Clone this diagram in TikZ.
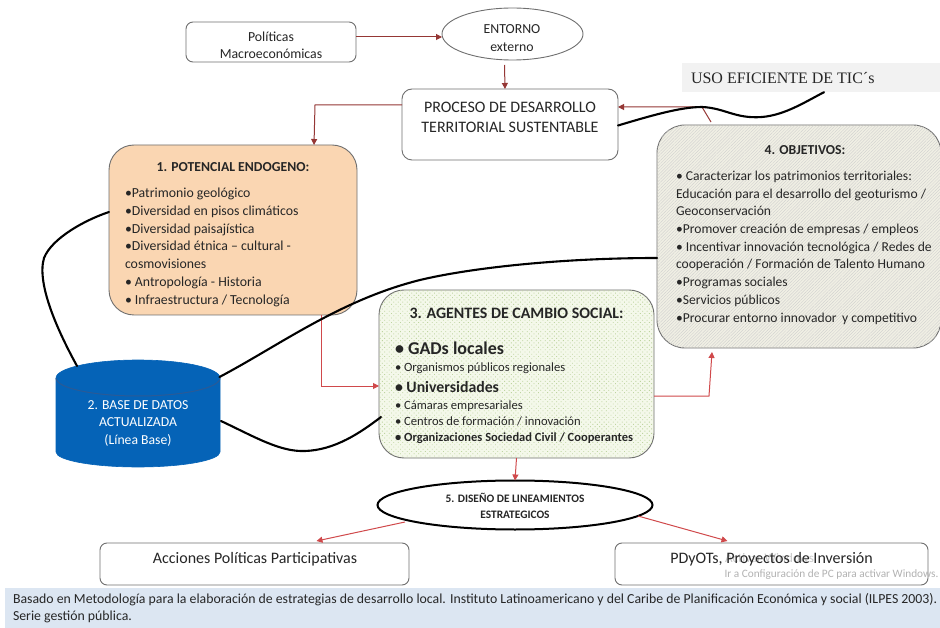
\documentclass[tikz,border=0pt]{standalone}
\usepackage{fontspec}
\setmainfont{Carlito}
\newfontfamily\serifuso{Liberation Serif}
\usetikzlibrary{arrows.meta,shapes.geometric,patterns.meta,calc}
\definecolor{darkred}{HTML}{953735}
\definecolor{lightred}{HTML}{D0494B}
\definecolor{txt}{HTML}{262626}
\definecolor{boxline}{HTML}{6F6F6F}
\definecolor{cylfill}{HTML}{0563B7}
\definecolor{cylline}{HTML}{2A5A96}
\newcommand{\fs}[2]{\fontsize{#1}{#2}\selectfont}
\tikzset{
  box/.style={draw=boxline,line width=0.9pt,rounded corners=7pt,fill=white,inner sep=0pt,outer sep=0pt,minimum width=#1},
  oval/.style={ellipse,inner sep=0pt,outer sep=0pt,fill=white},
  lbl/.style={inner sep=0pt,outer sep=0pt,text=txt,align=center},
  body/.style={inner sep=0pt,outer sep=0pt,text=txt,align=left,anchor=north west},
  arr/.style={draw=darkred,line width=1pt,-{Triangle[length=6pt,width=6pt]}},
  arrl/.style={draw=lightred,line width=1pt,-{Triangle[length=6pt,width=6pt]}},
  wire/.style={draw=black,line width=2.1pt,line cap=round},
}
\begin{document}
\begin{tikzpicture}[x=1pt,y=-1pt]
\clip (0,0) rectangle (940,628);
\fill[white] (0,0) rectangle (940,628);
% bands
\node[fill=black!5,inner sep=0pt,minimum width=258pt,minimum height=29pt] (uso) at (811,77.5) {};
\node[fill={rgb,255:red,220;green,230;blue,242},inner sep=0pt,minimum width=935pt,minimum height=40pt] (foot) at (472.5,608) {};
% boxes
\node[box=170pt,minimum height=40pt] (pol) at (271,42) {};
\node[oval,draw=boxline,line width=0.9pt,minimum width=141pt,minimum height=52pt] (ent) at (512.5,34) {};
\node[box=216pt,minimum height=71pt,rounded corners=10pt] (pro) at (510,124.5) {};
\node[box=248pt,minimum height=170pt,rounded corners=25pt,fill={rgb,255:red,250;green,214;blue,178}] (pot) at (233,230) {};
\node[box=275pt,minimum height=168pt,rounded corners=25pt,fill={rgb,255:red,244;green,248;blue,234},
  postaction={pattern={Dots[radius=0.6pt,distance=3.2pt,angle=45]},pattern color={rgb,255:red,190;green,212;blue,160}}] (agt) at (516.5,374) {};
\node[box=284pt,minimum height=223pt,rounded corners=28pt,fill={rgb,255:red,240;green,239;blue,228},
  postaction={pattern={Lines[angle=45,distance=2.2pt,line width=0.3pt]},pattern color=black!20}] (obj) at (799,236.5) {};
\node[oval,draw=black,line width=2pt,minimum width=275pt,minimum height=49pt] (dis) at (515,505) {};
\node[box=309pt,minimum height=42pt] (acc) at (254.5,564) {};
\node[box=313pt,minimum height=42pt] (pdy) at (771.5,564) {};
% database cylinder
\path[fill=cylfill,draw=cylfill,line width=0.6pt] (56,378) arc[start angle=180,end angle=0,x radius=82pt,y radius=18pt]
  -- (220,452) arc[start angle=0,end angle=-180,x radius=82pt,y radius=15pt] -- cycle;
\draw[cylline,line width=1pt] (56,378) arc[start angle=180,end angle=360,x radius=82pt,y radius=18pt];
\node[inner sep=0pt,outer sep=0pt,minimum width=164pt,minimum height=107pt] (cyl) at (138,413.5) {};
% arrows
\draw[arr] ([yshift=5pt]pol.east) -- ([yshift=-3pt]ent.west);
\draw[arr] ([xshift=-8pt,yshift=-5pt]ent.south) -- ([xshift=-5pt]pro.north);
\draw[arr] ([yshift=19.5pt]pro.west) -- ++(-87pt,0) -- ([xshift=81pt]pot.north);
\draw[arr] ([xshift=-88pt,yshift=3pt]obj.north) -- ++(-9pt,15pt) -- ([yshift=17.5pt]pro.east);
\draw[arrl] ([xshift=88.5pt]pot.south) |- ([yshift=-12pt]agt.west);
\draw[arrl] ([yshift=-22pt]agt.east) -- ++(55pt,0) -- ([xshift=-87pt,yshift=-4pt]obj.south);
\draw[arrl] (agt.south) -- (dis.north);
\draw[arrl] ([xshift=-110pt,yshift=-17pt]dis.center) -- ([xshift=62pt,yshift=2pt]acc.north);
\draw[arrl] ([xshift=123pt,yshift=-11pt]dis.center) -- ([xshift=-44pt,yshift=2pt]pdy.north);
% curves
\draw[wire] ([yshift=18pt]pot.west) .. controls (85,220) and (52,238) .. (44,258)
  .. controls (36,285) and (60,335) .. ([xshift=-61pt,yshift=47.5pt]cyl.center);
\draw[wire] ([xshift=81.5pt,yshift=36.5pt]cyl.center) .. controls (280,345) and (340,300) .. (420,280)
  .. controls (470,268) and (560,258) .. ([yshift=-21.5pt]obj.west);
\draw[wire] ([xshift=83pt,yshift=-7.5pt]cyl.center) .. controls (255,437) and (280,452) .. (305,451)
  .. controls (335,450) and (360,433) .. ([xshift=2pt,yshift=-43pt]agt.west);
\draw[wire] ([yshift=-1pt]pro.east) .. controls (650,116) and (680,107) .. (702,107)
  .. controls (725,108) and (735,119) .. (762,117)
  .. controls (785,115) and (805,102) .. ([xshift=13pt]uso.south);
% texts
\node[lbl,font=\fs{13.8}{17.5}] (tpol) at (271,45.5) {Políticas\\Macroeconómicas};
\node[lbl,font=\fs{13.8}{17.5}] (tent) at (512,38) {ENTORNO\\externo};
\node[lbl,font=\fs{16}{20}] (tpro) at (510,117) {PROCESO DE DESARROLLO\\TERRITORIAL SUSTENTABLE};
\node[lbl,font=\bfseries\fs{13.7}{16}] (tpot) at (233,167) {1. POTENCIAL ENDOGENO:};
\node[body,font=\fs{13.8}{17.75}] (bpot) at (125,188) {•Patrimonio geológico\\•Diversidad en pisos climáticos\\•Diversidad paisajística\\•Diversidad étnica – cultural -\\cosmovisiones\\• Antropología - Historia\\• Infraestructura / Tecnología};
\node[lbl,font=\bfseries\fs{13.7}{16}] (tobj) at (805,150) {4. OBJETIVOS:};
\node[body,font=\fs{13.6}{17.7}] (bobj) at (676,171) {• Caracterizar los patrimonios territoriales:\\Educación para el desarrollo del geoturismo /\\Geoconservación\\•Promover creación de empresas / empleos\\• Incentivar innovación tecnológica / Redes de\\cooperación / Formación de Talento Humano\\•Programas sociales\\•Servicios públicos\\•Procurar entorno innovador\, y competitivo};
\node[lbl,font=\bfseries\fs{15.9}{18}] (tagt) at (516.5,313) {3. AGENTES DE CAMBIO SOCIAL:};
\node[lbl,anchor=west,font=\bfseries\fs{18}{20}] (a1) at (395,348) {• GADs locales};
\node[lbl,anchor=west,font=\fs{12.6}{14}] (a2) at (395,368) {• Organismos públicos regionales};
\node[lbl,anchor=west,font=\bfseries\fs{15.8}{18}] (a3) at (395,387) {• Universidades};
\node[lbl,anchor=west,font=\fs{12.6}{14}] (a4) at (395,406) {• Cámaras empresariales};
\node[lbl,anchor=west,font=\fs{12.6}{14}] (a5) at (395,421.5) {• Centros de formación / innovación};
\node[lbl,anchor=west,font=\bfseries\fs{12.5}{14}] (a6) at (395,438) {• Organizaciones Sociedad Civil / Cooperantes};
\node[lbl,text=white,font=\fs{13.7}{17.5}] (tcyl) at (138,423.5) {2. BASE DE DATOS\\ACTUALIZADA\\(Línea Base)};
\node[lbl,font=\bfseries\fs{11.4}{15.5}] (tdis) at (515,506) {5. DISEÑO DE LINEAMIENTOS\\ESTRATEGICOS};
\node[lbl,font=\fs{16}{18}] (tacc) at (255,559.5) {Acciones Políticas Participativas};
\node[lbl,anchor=west,text=black!22,font=\fs{13}{15}] (w1) at (725,558.5) {Activar Windows};
\node[lbl,font=\fs{16}{18}] (tpdy) at (771.5,559.5) {PDyOTs, Proyectos de Inversión};
\node[lbl,anchor=west,text=black!30,font=\fs{11.3}{14}] (w2) at (724.5,574.5) {Ir a Configuración de PC para activar Windows.};
\node[body,font=\fs{13.8}{17}] (tfoot) at (13,593.5) {Basado en Metodología para la elaboración de estrategias de desarrollo local. Instituto Latinoamericano y del Caribe de Planificación Económica y social (ILPES 2003).\\Serie gestión pública.};
\node[lbl,anchor=west,font=\serifuso\fs{16}{20}] (tuso) at (691,78) {USO EFICIENTE DE TIC´s};
\end{tikzpicture}
\end{document}
